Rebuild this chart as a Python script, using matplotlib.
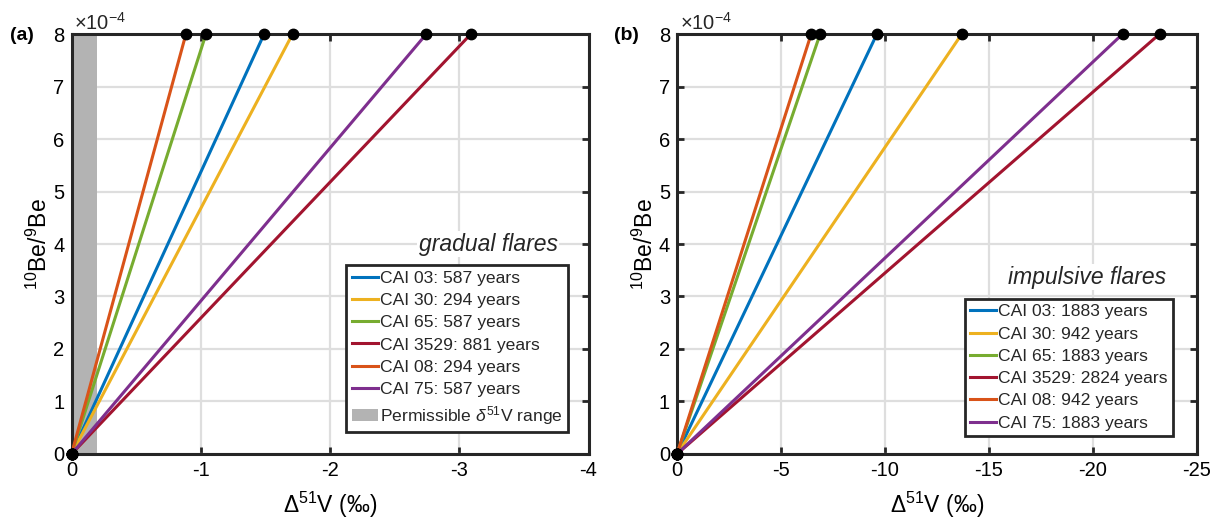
import matplotlib
matplotlib.use('Agg')
import matplotlib.pyplot as plt
from matplotlib.ticker import FuncFormatter

C_INK = '#262626'
C_GRID = '#dedede'

plt.rcParams.update({
    'font.family': ['Liberation Sans', 'DejaVu Sans'],
    'mathtext.fontset': 'custom',
    'mathtext.rm': 'Liberation Sans',
    'mathtext.it': 'Liberation Sans:italic',
    'mathtext.bf': 'Liberation Sans:bold',
    'font.size': 14,
    'axes.edgecolor': C_INK,
    'text.color': C_INK,
})

# ── Data: Be-10/Be-9 reached vs. V-51 shift for each CAI ───────────────
cais = ['CAI 03', 'CAI 30', 'CAI 65', 'CAI 3529', 'CAI 08', 'CAI 75']
colors = ['#0072BD', '#EDB120', '#77AC30', '#A2142F', '#D95319', '#7E2F8E']

gradual_years = [587, 294, 587, 881, 294, 587]
impulsive_years = [1883, 942, 1883, 2824, 942, 1883]

# Delta51V (permil) at the end of irradiation
gradual_dV = [-1.49, -1.71, -1.04, -3.09, -0.885, -2.745]
impulsive_dV = [-9.61, -13.69, -6.88, -23.2, -6.45, -21.42]

be_start = 0.0
be_end = 8e-4
permissible = (0.0, -0.2)

fig = plt.figure(figsize=(12.17, 5.24), dpi=100)
ax1 = fig.add_axes([0.0588, 0.1336, 0.4248, 0.8015])
ax2 = fig.add_axes([0.5563, 0.1336, 0.4273, 0.8015])


def style_axes(ax, xmin, xticks):
    ax.set_xlim(0, xmin)
    ax.set_ylim(0, 8e-4)
    ax.set_xticks(xticks)
    ax.set_xticklabels([f'{t:g}' if t != 0 else '0' for t in xticks])
    ax.set_yticks([i * 1e-4 for i in range(9)])
    ax.yaxis.set_major_formatter(FuncFormatter(lambda v, p: f'{v / 1e-4:.0f}'))
    ax.grid(True, color=C_GRID, lw=1.6)
    ax.set_axisbelow(True)
    ax.tick_params(direction='in', top=True, right=True, length=5, width=2,
                   color=C_INK, labelsize=14.5, pad=5)
    for s in ax.spines.values():
        s.set_linewidth(2.2)
        s.set_color(C_INK)
    ax.set_xlabel('Δ$^{51}$V (‰)', fontsize=16.5, labelpad=7)
    ax.set_ylabel('$^{10}$Be/$^{9}$Be', fontsize=16.5, labelpad=1)
    ax.text(0.005, 1.0, r'$\times$10$^{-4}$', transform=ax.transAxes,
            fontsize=14.5, va='bottom', ha='left', color=C_INK)


def draw_lines(ax, dV, years):
    handles = []
    for name, c, x, yr in zip(cais, colors, dV, years):
        h, = ax.plot([0, x], [be_start, be_end], color=c, lw=2.2,
                     label=f'{name}: {yr} years', zorder=3)
        handles.append(h)
    for x in dV:
        ax.plot([0, x], [be_start, be_end], ls='none', marker='o', ms=7.5,
                color='black', clip_on=False, zorder=5)
    return handles


legend_kw = dict(loc='lower right', borderaxespad=0, fontsize=12.6,
                 labelspacing=0.4, handlelength=1.5, handletextpad=0.12,
                 borderpad=0.3, fancybox=False, framealpha=1,
                 edgecolor=C_INK)

# Panel (a): gradual flares
style_axes(ax1, -4, [0, -1, -2, -3, -4])
span = ax1.axvspan(*permissible, color='#b3b3b3', lw=0, zorder=1,
                   label=r'Permissible $\delta^{51}$V range')
h1 = draw_lines(ax1, gradual_dV, gradual_years)
ax1.text(-3.76, 4e-4, 'gradual flares', style='italic', fontsize=16.5,
         ha='right', va='center', zorder=4,
         bbox=dict(facecolor='white', edgecolor='none', pad=1))
leg1 = ax1.legend(handles=h1 + [span], bbox_to_anchor=(0.960, 0.052),
                  **legend_kw)
leg1.get_frame().set_linewidth(2)

# Panel (b): impulsive flares
style_axes(ax2, -25, [0, -5, -10, -15, -20, -25])
h2 = draw_lines(ax2, impulsive_dV, impulsive_years)
ax2.text(-23.5, 3.37e-4, 'impulsive flares', style='italic', fontsize=16.5,
         ha='right', va='center', zorder=4,
         bbox=dict(facecolor='white', edgecolor='none', pad=1))
leg2 = ax2.legend(handles=h2, bbox_to_anchor=(0.954, 0.043), **legend_kw)
leg2.get_frame().set_linewidth(2)

fig.text(22 / 1217, 1 - 35 / 524, '(a)', fontsize=14, fontweight='bold',
         ha='center', va='center', color='black')
fig.text(626 / 1217, 1 - 35 / 524, '(b)', fontsize=14, fontweight='bold',
         ha='center', va='center', color='black')

fig.savefig('out.png', dpi=100)
